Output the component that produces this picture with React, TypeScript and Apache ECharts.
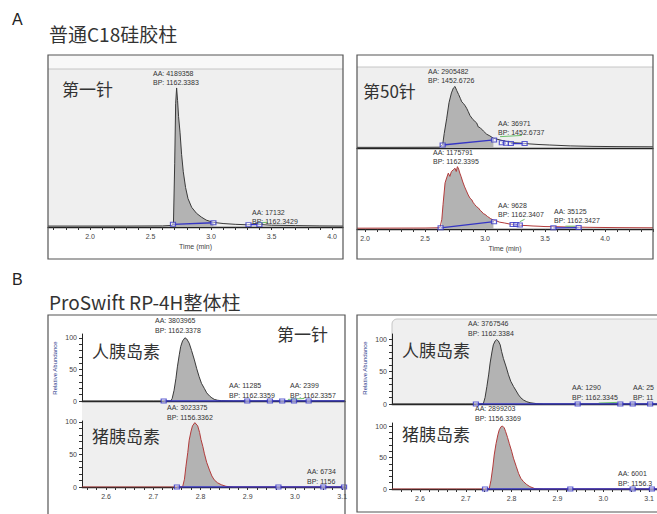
import React, { useEffect, useRef } from "react";
import * as echarts from "echarts";

type P = [number, number];

// ---------- tick positions and tick labels ----------
const A1_TICKS = [1.7, 1.8, 1.9, 2.0, 2.1, 2.2, 2.3, 2.4, 2.5, 2.6, 2.7, 2.8, 2.9, 3.0, 3.1, 3.2, 3.3, 3.4, 3.5, 3.6, 3.7, 3.8, 3.9, 4.0];
const A1_LABELS = [2.0, 2.5, 3.0, 3.5, 4.0];
const A2_TICKS = [2.0, 2.1, 2.2, 2.3, 2.4, 2.5, 2.6, 2.7, 2.8, 2.9, 3.0, 3.1, 3.2, 3.3, 3.4, 3.5, 3.6, 3.7, 3.8, 3.9, 4.0, 4.1, 4.2, 4.3, 4.4];
const A2_LABELS = [2.0, 2.5, 3.0, 3.5, 4.0];
const B_TICKS = [2.56, 2.58, 2.6, 2.62, 2.64, 2.66, 2.68, 2.7, 2.72, 2.74, 2.76, 2.78, 2.8, 2.82, 2.84, 2.86, 2.88, 2.9, 2.92, 2.94, 2.96, 2.98, 3.0, 3.02, 3.04, 3.06, 3.08, 3.1];
const B_LABELS = [2.6, 2.7, 2.8, 2.9, 3.0, 3.1];
const Y_TICKS = [0, 10, 20, 30, 40, 50, 60, 70, 80, 90, 100];
const Y_LABELS = [0, 50, 100];

// ---------- A: C18 column, 1st injection ----------
const A1_TRACE: P[] = [[1.653, 0.6], [2.0, 0.6], [2.3, 0.6], [2.6, 0.7], [2.68, 1.0], [2.69, 3], [2.70, 40], [2.708, 78], [2.716, 88], [2.724, 80], [2.732, 70], [2.744, 60], [2.757, 46], [2.771, 35], [2.79, 25], [2.81, 18], [2.84, 12.5], [2.88, 8.7], [2.92, 6.3], [2.96, 4.4], [3.02, 2.9], [3.1, 2.2], [3.2, 1.7], [3.3, 1.4], [3.35, 1.9], [3.38, 2.1], [3.42, 1.5], [3.5, 1.1], [3.7, 0.9], [3.9, 0.7], [4.091, 0.6]];
const A1_FILL: P = [2.686, 3.02];
const A1_BASE: P[][] = [[[2.686, 1.7], [3.02, 2.7]], [[3.31, 1.5], [3.40, 1.5]]];
const A1_MARKS: P[] = [[2.686, 1.7], [3.02, 2.7], [3.31, 1.5], [3.40, 1.5]];
const A1_GREEN: P[][] = [[[3.38, 2.5], [3.47, 3]]];

// ---------- A: C18 column, 50th injection (upper / lower) ----------
const A2U_TRACE: P[] = [[1.933, 0.8], [2.2, 0.8], [2.5, 0.9], [2.62, 1], [2.647, 4], [2.66, 18], [2.68, 36], [2.70, 56], [2.72, 68], [2.736, 74], [2.75, 76], [2.764, 71], [2.78, 66], [2.795, 61], [2.806, 57], [2.82, 55], [2.835, 52], [2.847, 49], [2.86, 45], [2.875, 40], [2.9, 35], [2.93, 31], [2.944, 26], [2.96, 25], [2.986, 21], [3.014, 17], [3.04, 15], [3.07, 12], [3.097, 11], [3.15, 9], [3.2, 7.5], [3.236, 6.5], [3.3, 6], [3.375, 5], [3.45, 4.3], [3.54, 3.7], [3.71, 2.6], [3.9, 2], [4.1, 1.7], [4.4, 1.5]];
const A2U_FILL: P = [2.647, 3.075];
const A2U_BASE: P[][] = [[[2.647, 3.7], [3.075, 10]], [[3.14, 6.5], [3.175, 6]], [[3.215, 5.5], [3.33, 5.5]]];
const A2U_MARKS: P[] = [[2.647, 3.7], [3.075, 10], [3.14, 6.5], [3.175, 6], [3.215, 5.5], [3.33, 5.5]];
const A2U_GREEN: P[][] = [[[3.125, 14], [3.306, 15.5]]];

const A2L_TRACE: P[] = [[1.933, 1], [2.2, 1.1], [2.5, 1.2], [2.6, 1.5], [2.625, 2], [2.64, 12], [2.65, 30], [2.667, 57], [2.68, 63], [2.694, 69], [2.707, 65], [2.72, 71], [2.735, 73], [2.75, 75], [2.76, 71], [2.77, 77], [2.78, 74], [2.79, 69], [2.80, 65], [2.815, 58], [2.83, 52], [2.845, 47], [2.86, 42], [2.875, 38], [2.89, 36], [2.9, 33], [2.915, 30], [2.93, 27.5], [2.945, 26], [2.96, 23], [2.975, 21], [2.986, 19], [3.0, 18], [3.02, 15.5], [3.045, 13], [3.07, 11], [3.095, 10], [3.12, 8.5], [3.16, 7.5], [3.21, 6], [3.26, 5.5], [3.3, 4.5], [3.35, 4.2], [3.4, 3.7], [3.45, 3.4], [3.5, 3], [3.6, 2.8], [3.68, 2.5], [3.8, 2.2], [3.9, 2], [4.1, 1.7], [4.4, 1.5]];
const A2L_FILL: P = [2.63, 3.075];
const A2L_BASE: P[][] = [[[2.63, 1.5], [3.075, 9]], [[3.23, 5.5], [3.29, 5]], [[3.57, 1.5], [3.78, 1.8]]];
const A2L_MARKS: P[] = [[2.63, 1.5], [3.075, 9], [3.23, 5.5], [3.26, 5.5], [3.29, 5], [3.57, 1.5], [3.78, 1.8]];
const A2L_GREEN: P[][] = [[[3.29, 9], [3.33, 12]], [[3.67, 3.5], [3.75, 3.5]]];

// ---------- B: ProSwift monolith, 1st injection ----------
const B1U_TRACE: P[] = [[2.549, 0], [2.7, 0], [2.737, 0], [2.740, 4], [2.744, 17], [2.748, 36], [2.751, 54], [2.755, 73], [2.758, 86], [2.762, 95], [2.767, 100], [2.771, 98], [2.776, 91.5], [2.781, 80], [2.787, 65], [2.792, 51], [2.797, 38.6], [2.802, 28], [2.808, 20], [2.813, 13], [2.819, 8], [2.824, 5], [2.829, 2.6], [2.836, 1.2], [2.844, 0.5], [2.87, 0], [3.106, 0]];
const B1U_FILL: P = [2.722, 2.899];
const B1U_BASE: P[][] = [[[2.722, 0], [3.106, 0]]];
const B1U_MARKS: P[] = [[2.722, 0], [2.899, 0], [2.947, 0], [2.973, 0], [2.998, 0], [3.029, 0]];
const B1U_GREEN: P[][] = [[[2.985, 2.5], [3.02, 4]]];

const B1L_TRACE: P[] = [[2.549, 0], [2.75, 0], [2.762, 0], [2.766, 12], [2.769, 31], [2.773, 53], [2.776, 72], [2.78, 86], [2.783, 94], [2.788, 99], [2.794, 94], [2.798, 84], [2.801, 73], [2.805, 62], [2.808, 52], [2.813, 38], [2.819, 26], [2.824, 17], [2.829, 11], [2.836, 6.5], [2.844, 3.5], [2.854, 1], [2.87, 0], [3.106, 0]];
const B1L_FILL: P = [2.75, 2.965];
const B1L_BASE: P[][] = [[[2.75, 0], [3.106, 0]]];
const B1L_MARKS: P[] = [[2.75, 0], [2.965, 0], [3.06, 0], [3.104, 0]];

// ---------- B: ProSwift monolith, later injection ----------
const B2U_TRACE: P[] = [[2.539, 0], [2.7, 0], [2.738, 0], [2.742, 10], [2.746, 27], [2.75, 46], [2.753, 63], [2.757, 80], [2.76, 91], [2.764, 97], [2.767, 99], [2.771, 97], [2.775, 91], [2.778, 81], [2.782, 70], [2.788, 57], [2.793, 45], [2.798, 35], [2.804, 27], [2.81, 20], [2.815, 14], [2.82, 9.5], [2.826, 6], [2.833, 3.5], [2.84, 2], [2.855, 0.5], [2.87, 0], [3.117, 0]];
const B2U_FILL: P = [2.722, 2.944];
const B2U_BASE: P[][] = [[[2.722, 0], [3.117, 0]]];
const B2U_MARKS: P[] = [[2.722, 0], [2.944, 0], [3.037, 0], [3.064, 0], [3.102, 0]];
const B2U_GREEN: P[][] = [[[2.99, 1.5], [3.03, 2.5]]];

const B2L_TRACE: P[] = [[2.539, 0], [2.74, 0], [2.751, 0], [2.755, 14], [2.759, 35], [2.762, 54], [2.766, 72], [2.77, 86], [2.773, 94], [2.777, 99], [2.78, 100], [2.784, 97], [2.787, 91], [2.791, 82], [2.795, 72], [2.8, 60], [2.804, 49], [2.81, 36], [2.815, 25], [2.82, 17], [2.826, 11.6], [2.833, 7], [2.84, 3.7], [2.851, 0.5], [2.87, 0], [3.117, 0]];
const B2L_FILL: P = [2.742, 2.928];
const B2L_BASE: P[][] = [[[2.742, 0], [3.117, 0]]];
const B2L_MARKS: P[] = [[2.742, 0], [2.928, 0], [3.064, 0], [3.106, 0]];

const BLACK = "#3a3a3a";
const RED = "#b23b3b";
const BLUE = "#3535c4";
const GREEN = "#6cc06c";
const FILL = "#b3b3b3";
const SMALL = '"Liberation Sans", Arial, sans-serif';
const CJK = '"Noto Sans CJK SC", sans-serif';

function panel(gi: number, trace: P[], color: string, fill: P, base: P[][], marks: P[], greens: P[][]) {
  const s: any[] = [];
  s.push({
    type: "line", xAxisIndex: gi, yAxisIndex: gi, silent: true,
    data: trace.filter((p) => p[0] >= fill[0] && p[0] <= fill[1]),
    symbol: "none", lineStyle: { width: 0, opacity: 0 },
    areaStyle: { color: FILL, opacity: 1 }, z: 1,
  });
  s.push({
    type: "line", xAxisIndex: gi, yAxisIndex: gi, silent: true, data: trace,
    symbol: "none", lineStyle: { color, width: 1 }, z: 3,
  });
  greens.forEach((g) =>
    s.push({ type: "line", xAxisIndex: gi, yAxisIndex: gi, silent: true, data: g, symbol: "none", lineStyle: { color: GREEN, width: 1 }, z: 3 })
  );
  base.forEach((b) =>
    s.push({ type: "line", xAxisIndex: gi, yAxisIndex: gi, silent: true, data: b, symbol: "none", lineStyle: { color: BLUE, width: 1.3 }, z: 4 })
  );
  s.push({
    type: "scatter", xAxisIndex: gi, yAxisIndex: gi, silent: true, data: marks,
    symbol: "rect", symbolSize: [5, 4],
    itemStyle: { color: "rgba(255,255,255,0.6)", borderColor: BLUE, borderWidth: 1.1 }, z: 5,
  });
  return s;
}

function xa(gi: number, min: number, max: number, ticks?: number[], labels?: number[], name?: string) {
  const show = !!ticks;
  return {
    type: "value", gridIndex: gi, min, max,
    splitLine: { show: false },
    axisLine: { show: true, onZero: false, lineStyle: { color: "#222", width: 1.3 } },
    axisTick: show ? { show: true, customValues: ticks, length: 3, lineStyle: { color: "#333", width: 1 } } : { show: false },
    axisLabel: show
      ? { show: true, customValues: labels, formatter: (v: number) => v.toFixed(1), fontSize: 7, color: "#444", margin: 6, fontFamily: SMALL }
      : { show: false },
    name: name || "", nameLocation: "middle", nameGap: 16,
    nameTextStyle: { fontSize: 7, color: "#444", fontFamily: SMALL },
  };
}

function yaHidden(gi: number) {
  return { type: "value", gridIndex: gi, min: 0, max: 100, show: false };
}

function yaShown(gi: number, max: number) {
  return {
    type: "value", gridIndex: gi, min: 0, max,
    splitLine: { show: false },
    axisLine: { show: true, lineStyle: { color: "#222", width: 1 } },
    axisTick: { show: true, customValues: Y_TICKS, length: 3, lineStyle: { color: "#333" } },
    axisLabel: { show: true, customValues: Y_LABELS, fontSize: 7, color: "#444", margin: 5, fontFamily: SMALL },
  };
}

function txt(text: string, x: number, y: number, size = 7, font = SMALL, color = "#333", extra: any = {}) {
  return {
    type: "text", x, y, z: 100, silent: true,
    style: { text, fill: color, font: `${size}px ${font}`, textVerticalAlign: "middle", verticalAlign: "middle", textAlign: "left", align: "left", ...extra },
  };
}

function rect(x: number, y: number, w: number, h: number, fill: string, stroke = "none", lw = 1, z = -1, r: any = 0) {
  return { type: "rect", z, silent: true, shape: { x, y, width: w, height: h, r }, style: { fill, stroke, lineWidth: lw } };
}

function hline(x1: number, x2: number, y: number, color: string, z = -1) {
  return { type: "line", z, silent: true, shape: { x1, y1: y, x2, y2: y }, style: { stroke: color, lineWidth: 1 } };
}

export default function App() {
  const ref = useRef<HTMLDivElement>(null);
  useEffect(() => {
    if (!ref.current) return;
    const chart = echarts.init(ref.current, undefined, { renderer: "svg" });
    const grids = [
      { left: 48, top: 69, width: 295, height: 158 },
      { left: 357, top: 67, width: 296, height: 81 },
      { left: 357, top: 148, width: 296, height: 81 },
      { left: 82, top: 334, width: 263, height: 67 },
      { left: 82, top: 421, width: 263, height: 66 },
      { left: 392, top: 334, width: 265, height: 70 },
      { left: 392, top: 423, width: 265, height: 66 },
    ];
    const option: any = {
      animation: false,
      backgroundColor: "#ffffff",
      grid: grids.map((g) => ({ ...g, containLabel: false })),
      xAxis: [
        xa(0, 1.653, 4.091, A1_TICKS, A1_LABELS, "Time (min)"),
        xa(1, 1.933, 4.4),
        xa(2, 1.933, 4.4, A2_TICKS, A2_LABELS, "Time (min)"),
        xa(3, 2.549, 3.106),
        xa(4, 2.549, 3.106, B_TICKS, B_LABELS),
        xa(5, 2.539, 3.117),
        xa(6, 2.539, 3.117, B_TICKS, B_LABELS),
      ],
      yAxis: [
        yaHidden(0), yaHidden(1), yaHidden(2),
        yaShown(3, 106), yaShown(4, 101.5),
        yaShown(5, 107.7), yaShown(6, 104.8),
      ],
      series: [
        ...panel(0, A1_TRACE, BLACK, A1_FILL, A1_BASE, A1_MARKS, A1_GREEN),
        ...panel(1, A2U_TRACE, BLACK, A2U_FILL, A2U_BASE, A2U_MARKS, A2U_GREEN),
        ...panel(2, A2L_TRACE, RED, A2L_FILL, A2L_BASE, A2L_MARKS, A2L_GREEN),
        ...panel(3, B1U_TRACE, BLACK, B1U_FILL, B1U_BASE, B1U_MARKS, B1U_GREEN),
        ...panel(4, B1L_TRACE, RED, B1L_FILL, B1L_BASE, B1L_MARKS, []),
        ...panel(5, B2U_TRACE, BLACK, B2U_FILL, B2U_BASE, B2U_MARKS, B2U_GREEN),
        ...panel(6, B2L_TRACE, RED, B2L_FILL, B2L_BASE, B2L_MARKS, []),
      ],
      graphic: [
        // backgrounds
        rect(48, 55, 295, 14, "#f8f8f8"),
        rect(48, 69, 295, 158, "#efefef"),
        hline(48, 343, 69, "#c6c6c6"),
        rect(357, 67, 296, 81, "#efefef"),
        hline(357, 653, 67, "#c6c6c6"),
        rect(82, 401, 263, 86, "#efefef"),
        rect(392, 319, 270, 85, "#efefef", "#c6c6c6", 1, -1, [5, 0, 0, 0]),
        // boxes
        rect(48, 55, 295, 204, "none", "#555", 1.2, 50),
        rect(357, 55, 296, 204, "none", "#555", 1.2, 50),
        rect(48, 315, 297, 210, "none", "#555", 1.2, 50),
        rect(357, 315, 310, 197, "none", "#555", 1.2, 50),
        // headings
        txt("A", 12, 19, 16, SMALL, "#222"),
        txt("普通C18硅胶柱", 49, 33, 19, CJK, "#333"),
        txt("B", 12, 279, 16, SMALL, "#222"),
        txt("ProSwift RP-4H整体柱", 49, 301, 19, CJK, "#333"),
        // panel A-left
        txt("第一针", 62, 88, 17, CJK, "#333"),
        txt("AA: 4189358", 153, 73), txt("BP: 1162.3383", 153, 82),
        txt("AA: 17132", 252, 212), txt("BP: 1162.3429", 252, 221),
        // panel A-right
        txt("第50针", 363, 90, 17, CJK, "#333"),
        txt("AA: 2905482", 428, 71), txt("BP: 1452.6726", 428, 80),
        txt("AA: 36971", 498, 123), txt("BP: 1452.6737", 498, 132),
        txt("AA: 1175791", 433, 152), txt("BP: 1162.3395", 433, 161),
        txt("AA: 9628", 498, 205), txt("BP: 1162.3407", 498, 214),
        txt("AA: 35125", 554, 211), txt("BP: 1162.3427", 554, 220),
        // panel B-left
        txt("Relative Abundance", 55, 368, 6, SMALL, "#2a3a8a", { textAlign: "center", align: "center" }),
        txt("人胰岛素", 92, 350, 17, CJK, "#333"),
        txt("猪胰岛素", 92, 435, 17, CJK, "#333"),
        txt("第一针", 277, 333, 17, CJK, "#333"),
        txt("AA: 3803965", 155, 320), txt("BP: 1162.3378", 155, 330),
        txt("AA: 11285", 229, 385), txt("BP: 1162.3359", 229, 395),
        txt("AA: 2399", 290, 385), txt("BP: 1162.3357", 290, 395),
        txt("AA: 3023375", 167, 407), txt("BP: 1156.3362", 167, 417),
        txt("AA: 6734", 307, 471), txt("BP: 1156", 307, 481),
        // panel B-right
        txt("Relative Abundance", 365, 368, 6, SMALL, "#2a3a8a", { textAlign: "center", align: "center" }),
        txt("人胰岛素", 402, 349, 17, CJK, "#333"),
        txt("猪胰岛素", 402, 433, 17, CJK, "#333"),
        txt("AA: 3767546", 468, 323), txt("BP: 1162.3384", 468, 333),
        txt("AA: 1290", 572, 387), txt("BP: 1162.3345", 572, 397),
        txt("AA: 25", 633, 387), txt("BP: 11", 633, 397),
        txt("AA: 2899203", 475, 408), txt("BP: 1156.3369", 475, 418),
        txt("AA: 6001", 618, 473), txt("BP: 1156.3", 618, 483),
      ],
    };
    // rotate the "Relative Abundance" labels
    option.graphic.forEach((g: any) => {
      if (g.type === "text" && g.style.text === "Relative Abundance") g.rotation = Math.PI / 2;
    });
    chart.setOption(option);
    return () => chart.dispose();
  }, []);
  return <div ref={ref} style={{ position: "absolute", left: 0, top: 0, width: 657, height: 514, background: "#fff" }} />;
}
